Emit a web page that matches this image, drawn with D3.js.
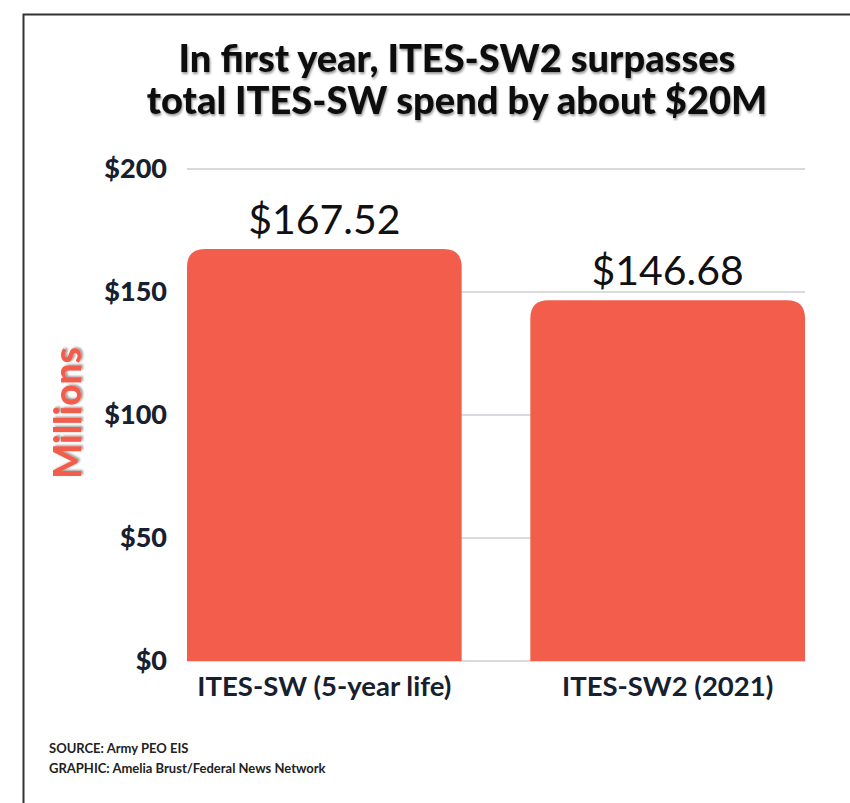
<!DOCTYPE html>
<html>
<head>
<meta charset="utf-8">
<script src="https://cdn.jsdelivr.net/npm/d3@7"></script>
<style>
  body { margin: 0; background: #fff; }
  svg { display: block; }
</style>
</head>
<body>
<div id="chart"></div>
<script>
(function () {
  'use strict';

  var categories = ['ITES-SW (5-year life)', 'ITES-SW2 (2021)'];
  var values = [167.52, 146.68];
  var valueLabels = ['$167.52', '$146.68'];
  var yTicks = [0, 50, 100, 150, 200];
  var titleLines = ['In first year, ITES-SW2 surpasses', 'total ITES-SW spend by about $20M'];
  var footLines = ['SOURCE: Army PEO EIS', 'GRAPHIC: Amelia Brust/Federal News Network'];

  var width = 850, height = 803;
  var barColour = '#f25d4c';

  var svg = d3.select('#chart')
    .append('svg')
    .attr('width', width)
    .attr('height', height);

  var defs = svg.append('defs');
  var f = defs.append('filter').attr('id', 'shadow')
    .attr('x', '-10%').attr('y', '-10%').attr('width', '120%').attr('height', '130%');
  f.append('feDropShadow')
    .attr('dx', 1).attr('dy', 2).attr('stdDeviation', 1.3)
    .attr('flood-color', '#000').attr('flood-opacity', 0.4);

  // frame
  svg.append('path')
    .attr('d', 'M23.5,803 V14.5 H850')
    .attr('fill', 'none')
    .attr('stroke', '#333')
    .attr('stroke-width', 2);

  var x = d3.scaleBand()
    .domain(categories)
    .range([187, 805])
    .paddingInner(0.2)
    .paddingOuter(0);

  var y = d3.scaleLinear()
    .domain([0, 200])
    .range([661, 169]);

  // grid lines
  svg.append('g')
    .selectAll('line')
    .data(yTicks)
    .enter().append('line')
    .attr('x1', 187).attr('x2', 805)
    .attr('y1', function (d) { return y(d); })
    .attr('y2', function (d) { return y(d); })
    .attr('stroke', '#d9d9df')
    .attr('stroke-width', 2);

  // y axis labels
  var yAxis = d3.axisLeft(y)
    .tickValues(yTicks)
    .tickSize(0)
    .tickPadding(0)
    .tickFormat(function (d) { return '$' + d; });

  var ag = svg.append('g')
    .attr('transform', 'translate(167,0)')
    .call(yAxis);
  ag.select('.domain').remove();
  ag.selectAll('text')
    .attr('font-family', 'Lato, sans-serif')
    .attr('font-weight', 900)
    .attr('font-size', 27)
    .attr('fill', '#17202f');

  // bars (top corners rounded)
  var r = 18;
  svg.append('g')
    .selectAll('path')
    .data(values)
    .enter().append('path')
    .attr('fill', barColour)
    .attr('d', function (d, i) {
      var x0 = x(categories[i]), x1 = x0 + x.bandwidth();
      var y0 = y(d), y1 = y(0);
      return 'M' + x0 + ',' + y1 +
        'V' + (y0 + r) +
        'Q' + x0 + ',' + y0 + ' ' + (x0 + r) + ',' + y0 +
        'H' + (x1 - r) +
        'Q' + x1 + ',' + y0 + ' ' + x1 + ',' + (y0 + r) +
        'V' + y1 + 'Z';
    });

  // value labels
  svg.append('g')
    .selectAll('text')
    .data(values)
    .enter().append('text')
    .attr('x', function (d, i) { return x(categories[i]) + x.bandwidth() / 2; })
    .attr('y', function (d) { return y(d) - 15; })
    .attr('text-anchor', 'middle')
    .attr('font-family', 'Lato, sans-serif')
    .attr('font-weight', 400)
    .attr('font-size', 41)
    .attr('fill', '#111')
    .text(function (d, i) { return valueLabels[i]; });

  // category labels
  svg.append('g')
    .selectAll('text')
    .data(categories)
    .enter().append('text')
    .attr('x', function (d) { return x(d) + x.bandwidth() / 2; })
    .attr('y', 696)
    .attr('text-anchor', 'middle')
    .attr('font-family', 'Lato, sans-serif')
    .attr('font-weight', 700)
    .attr('font-size', 27.5)
    .attr('fill', '#17202f')
    .text(function (d) { return d; });

  // title
  svg.append('g')
    .attr('filter', 'url(#shadow)')
    .selectAll('text')
    .data(titleLines)
    .enter().append('text')
    .attr('x', 457)
    .attr('y', function (d, i) { return 72 + i * 42; })
    .attr('text-anchor', 'middle')
    .attr('font-family', 'Lato, sans-serif')
    .attr('font-weight', 900)
    .attr('font-size', 38)
    .attr('fill', '#111')
    .text(function (d) { return d; });

  // y axis title
  svg.append('text')
    .attr('transform', 'translate(81,413) rotate(-90)')
    .attr('text-anchor', 'middle')
    .attr('font-family', 'Lato, sans-serif')
    .attr('font-weight', 900)
    .attr('font-size', 37)
    .attr('fill', barColour)
    .attr('filter', 'url(#shadow)')
    .text('Millions');

  // footer
  svg.append('g')
    .selectAll('text')
    .data(footLines)
    .enter().append('text')
    .attr('x', 49)
    .attr('y', function (d, i) { return 753 + i * 20; })
    .attr('font-family', 'Lato, sans-serif')
    .attr('font-weight', 700)
    .attr('font-size', 13)
    .attr('fill', '#222')
    .text(function (d) { return d; });
}());
</script>
</body>
</html>
